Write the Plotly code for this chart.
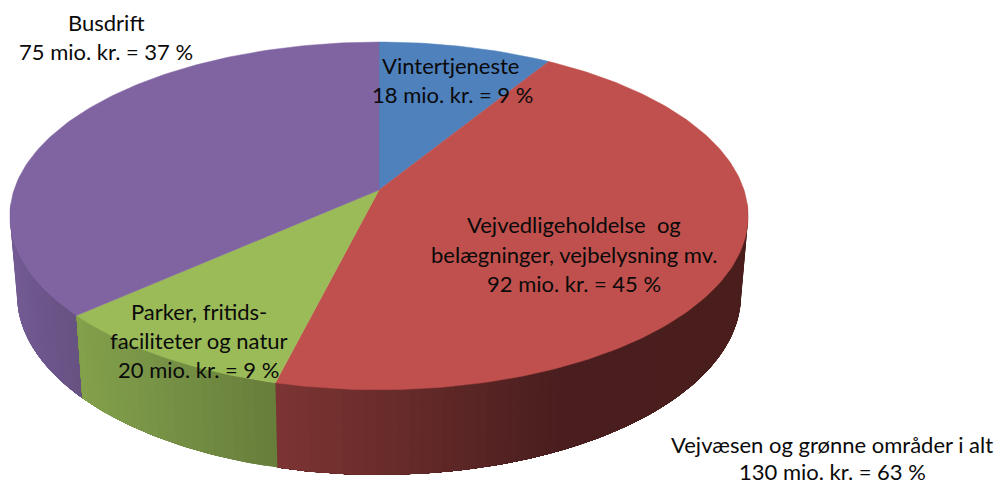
import math
import plotly.graph_objects as go

# Data
categories = ["Vintertjeneste", "Vejvedligeholdelse og belægninger, vejbelysning mv.",
              "Parker, fritids-faciliteter og natur", "Busdrift"]
values = [18, 92.5, 19.5, 75]
colors = ["#4f81bd", "#c0504d", "#9bbb59", "#8064a2"]
label_lines = [
    ["Vintertjeneste", "18 mio. kr. = 9 %"],
    ["Vejvedligeholdelse  og", "belægninger, vejbelysning mv.", "92 mio. kr. = 45 %"],
    ["Parker, fritids-", "faciliteter og natur", "20 mio. kr. = 9 %"],
    ["Busdrift", "75 mio. kr. = 37 %"],
    ["Vejvæsen og grønne områder i alt", "130 mio. kr. = 63 %"],
]
label_centres = [
    [(450, 65), (452, 94)],
    [(574, 224), (574, 254), (574, 283)],
    [(199, 311), (199, 340), (198, 369)],
    [(106, 22), (106, 51)],
    [(832, 444), (832, 471)],
]

# Side shading per slice: (screen x, colour) stops
side_stops = {
    1: [(275, (124, 52, 51)), (400, (103, 43, 42)), (480, (88, 36, 36)), (560, (74, 30, 30)), (760, (74, 30, 29))],
    2: [(80, (131, 160, 75)), (180, (116, 143, 68)), (277, (103, 125, 58))],
    3: [(5, (118, 94, 150)), (40, (109, 86, 140)), (85, (102, 82, 128))],
}

# Projection of the disc (perspective tilt)
TOP = dict(cx=379, cy=190, a=365, b=170, k=0.149)
BOTTOM = dict(cx=379, cy=268, a=358, b=176, k=0.149)
VISIBLE = (math.radians(94), math.radians(266))


def project(theta, d):
    u, v = math.sin(theta), math.cos(theta)
    w = 1 + d["k"] * v
    return d["cx"] + d["a"] * u / w, d["cy"] - d["b"] * v / w


def shade(stops, x):
    if x <= stops[0][0]:
        return stops[0][1]
    for (x0, c0), (x1, c1) in zip(stops, stops[1:]):
        if x <= x1:
            t = (x - x0) / (x1 - x0)
            return tuple(c0[i] + (c1[i] - c0[i]) * t for i in range(3))
    return stops[-1][1]


total = sum(values)
edges = [0.0]
for val in values:
    edges.append(edges[-1] + val / total * 2 * math.pi)

fig = go.Figure()
STEP = math.radians(1.5)


def arc(a, b, d, n):
    return [project(a + (b - a) * j / n, d) for j in range(n + 1)]


# Sides: each strip runs on to the far end of its slice, the next strip overdraws it
for idx, reverse in ((3, True), (1, False), (2, False)):
    stops = side_stops[idx]
    t0, t1 = max(edges[idx], VISIBLE[0]), min(edges[idx + 1], VISIBLE[1])
    n = max(1, int((t1 - t0) / STEP))
    for j in range(n):
        if reverse:
            a, b = t0, t0 + (t1 - t0) * (n - j) / n
            mid = t0 + (t1 - t0) * (n - j - 0.5) / n
        else:
            a, b = t0 + (t1 - t0) * j / n, t1
            mid = t0 + (t1 - t0) * (j + 0.5) / n
        m = max(1, int((b - a) / math.radians(1)))
        p = arc(a, b, TOP, m) + arc(b, a, BOTTOM, m)
        p.append(p[0])
        c = shade(stops, (project(mid, TOP)[0] + project(mid, BOTTOM)[0]) / 2)
        col = "rgb(%d,%d,%d)" % tuple(round(i) for i in c)
        fig.add_trace(go.Scatter(
            x=[q[0] for q in p], y=[q[1] for q in p],
            mode="lines", fill="toself", fillcolor=col,
            line=dict(width=0), hoverinfo="skip", showlegend=False))

# Top faces
for idx, name in enumerate(categories):
    t0, t1 = edges[idx], edges[idx + 1]
    n = max(2, int((t1 - t0) / math.radians(1)))
    pts = [(TOP["cx"], TOP["cy"])] + arc(t0, t1, TOP, n)
    pts.append(pts[0])
    fig.add_trace(go.Scatter(
        x=[q[0] for q in pts], y=[q[1] for q in pts], name=name,
        mode="lines", fill="toself", fillcolor=colors[idx],
        line=dict(color=colors[idx], width=0.5), showlegend=False, hoverinfo="name"))

for lines, centres in zip(label_lines, label_centres):
    for text, (x, y) in zip(lines, centres):
        fig.add_annotation(x=x, y=y, xref="x", yref="y", text=text, showarrow=False,
                           xanchor="center", yanchor="middle",
                           font=dict(family="Lato", size=22, color="#0a0a0a"))

fig.update_layout(
    width=1001, height=480, margin=dict(l=0, r=0, t=0, b=0),
    paper_bgcolor="white", plot_bgcolor="white",
    xaxis=dict(range=[0, 1001], visible=False, fixedrange=True),
    yaxis=dict(range=[480, 0], visible=False, fixedrange=True),
)
fig.write_html("out.html", config={"displayModeBar": False},
               post_script="document.body.style.margin='0';document.body.style.overflow='hidden';")
